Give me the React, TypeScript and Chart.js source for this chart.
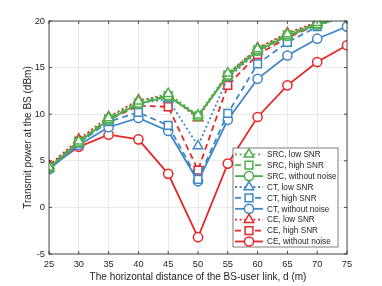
import React, { useEffect, useRef } from "react";
import { Chart, registerables } from "chart.js";

Chart.register(...registerables);

const distances = [25, 30, 35, 40, 45, 50, 55, 60, 65, 70, 75];
const xTicks = [25, 30, 35, 40, 45, 50, 55, 60, 65, 70, 75];
const yTicks = [-5, 0, 5, 10, 15, 20];

const srcLow = [4.3, 7.1, 9.6, 11.4, 12.2, 9.9, 14.4, 17.0, 18.6, 19.8, 20.7];
const srcHigh = [4.3, 7.0, 9.5, 11.2, 12.0, 9.8, 14.2, 16.9, 18.5, 19.7, 20.6];
const srcNoNoise = [4.2, 7.0, 9.4, 11.1, 11.9, 9.8, 14.1, 16.8, 18.4, 19.6, 20.5];
const ctLow = [4.2, 6.9, 9.3, 11.2, 11.6, 6.6, 13.9, 16.7, 18.4, 19.6, 20.6];
const ctHigh = [4.2, 6.9, 9.2, 10.2, 8.8, 3.0, 10.1, 15.4, 17.7, 19.4, 20.8];
const ctNoNoise = [4.1, 6.7, 8.6, 9.6, 8.2, 2.8, 9.4, 13.8, 16.3, 18.1, 19.4];
const ceLow = [4.5, 7.3, 9.7, 11.5, 12.0, 9.6, 14.3, 17.1, 18.7, 19.9, 20.9];
const ceHigh = [4.4, 7.1, 9.4, 10.9, 10.8, 4.0, 13.1, 16.4, 18.2, 19.6, 20.8];
const ceNoNoise = [4.3, 6.5, 7.8, 7.3, 3.6, -3.2, 4.7, 9.7, 13.1, 15.6, 17.4];

const labels = [
  "SRC, low SNR",
  "SRC, high SNR",
  "SRC, without noise",
  "CT, low SNR",
  "CT, high SNR",
  "CT, without noise",
  "CE, low SNR",
  "CE, high SNR",
  "CE, without noise",
];

const GREEN = "#4daf4a";
const BLUE = "#3f87c6";
const RED = "#e6282a";
const TEXT = "#262626";
const FONT = "'Liberation Sans', Arial, sans-serif";

const DOT = [2, 2.6];
const DASH = [6, 4];

type Style = { color: string; dash: number[]; marker: string; radius: number };

const styles: Style[] = [
  { color: GREEN, dash: DOT, marker: "triangle", radius: 5.5 },
  { color: GREEN, dash: DASH, marker: "rect", radius: 5.5 },
  { color: GREEN, dash: [], marker: "circle", radius: 4.6 },
  { color: BLUE, dash: DOT, marker: "triangle", radius: 5.5 },
  { color: BLUE, dash: DASH, marker: "rect", radius: 5.5 },
  { color: BLUE, dash: [], marker: "circle", radius: 4.6 },
  { color: RED, dash: DOT, marker: "triangle", radius: 5.5 },
  { color: RED, dash: DASH, marker: "rect", radius: 5.5 },
  { color: RED, dash: [], marker: "circle", radius: 4.6 },
];

const seriesValues = [srcLow, srcHigh, srcNoNoise, ctLow, ctHigh, ctNoNoise, ceLow, ceHigh, ceNoNoise];

function drawMarker(ctx: CanvasRenderingContext2D, marker: string, x: number, y: number, r: number) {
  ctx.beginPath();
  if (marker === "triangle") {
    let rad = 0;
    ctx.moveTo(x + Math.sin(rad) * r, y - Math.cos(rad) * r);
    rad += (2 * Math.PI) / 3;
    ctx.lineTo(x + Math.sin(rad) * r, y - Math.cos(rad) * r);
    rad += (2 * Math.PI) / 3;
    ctx.lineTo(x + Math.sin(rad) * r, y - Math.cos(rad) * r);
    ctx.closePath();
  } else if (marker === "rect") {
    const s = r / Math.SQRT2;
    ctx.rect(x - s, y - s, 2 * s, 2 * s);
  } else {
    ctx.arc(x, y, r, 0, Math.PI * 2);
  }
  ctx.fillStyle = "#ffffff";
  ctx.fill();
  ctx.stroke();
}

const framePlugin = {
  id: "frame",
  afterDatasetsDraw(chart: any) {
    const { ctx, chartArea } = chart;
    const { left, right, top, bottom } = chartArea;
    const xs = chart.scales.x;
    const ys = chart.scales.y;
    ctx.save();
    ctx.strokeStyle = TEXT;
    ctx.lineWidth = 0.8;
    ctx.strokeRect(left, top, right - left, bottom - top);
    ctx.beginPath();
    const tl = 3;
    xTicks.forEach((v) => {
      const px = xs.getPixelForValue(v);
      ctx.moveTo(px, bottom);
      ctx.lineTo(px, bottom - tl);
      ctx.moveTo(px, top);
      ctx.lineTo(px, top + tl);
    });
    yTicks.forEach((v) => {
      const py = ys.getPixelForValue(v);
      ctx.moveTo(left, py);
      ctx.lineTo(left + tl, py);
      ctx.moveTo(right, py);
      ctx.lineTo(right - tl, py);
    });
    ctx.stroke();
    ctx.restore();
  },
  afterDraw(chart: any) {
    const { ctx } = chart;
    const bx = 233;
    const by = 148;
    const bw = 105;
    const bh = 99;
    ctx.save();
    ctx.fillStyle = "#ffffff";
    ctx.fillRect(bx, by, bw, bh);
    ctx.strokeStyle = TEXT;
    ctx.lineWidth = 0.6;
    ctx.strokeRect(bx, by, bw, bh);
    const rowH = 10.9;
    labels.forEach((lab, i) => {
      const st = styles[i];
      const cy = by + 6.3 + i * rowH;
      ctx.strokeStyle = st.color;
      ctx.lineWidth = 1.8;
      ctx.setLineDash(st.dash);
      ctx.beginPath();
      ctx.moveTo(bx + 2, cy);
      ctx.lineTo(bx + 30, cy);
      ctx.stroke();
      ctx.setLineDash([]);
      ctx.lineWidth = 1.5;
      drawMarker(ctx, st.marker, bx + 16, cy, st.radius);
      ctx.fillStyle = TEXT;
      ctx.font = `8.2px ${FONT}`;
      ctx.textBaseline = "middle";
      ctx.textAlign = "left";
      ctx.fillText(lab, bx + 34, cy + 0.5);
    });
    ctx.restore();
  },
};

export default function App() {
  const canvasRef = useRef<HTMLCanvasElement | null>(null);

  useEffect(() => {
    document.body.style.margin = "0";
    const canvas = canvasRef.current;
    if (!canvas) return;
    const datasets = seriesValues.map((vals, i) => {
      const st = styles[i];
      return {
        label: labels[i],
        data: distances.map((d, j) => ({ x: d, y: vals[j] })),
        borderColor: st.color,
        backgroundColor: "#ffffff",
        borderWidth: 1.8,
        borderDash: st.dash,
        pointStyle: st.marker,
        pointRadius: st.radius,
        pointBorderWidth: 1.5,
        pointBorderColor: st.color,
        pointBackgroundColor: "#ffffff",
        tension: 0,
        fill: false,
      };
    });
    const chart = new Chart(canvas, {
      type: "line",
      data: { datasets },
      options: {
        animation: false,
        responsive: false,
        maintainAspectRatio: false,
        layout: { padding: { left: 18, top: 21, right: 35, bottom: 0 } },
        plugins: {
          legend: { display: false },
          tooltip: { enabled: false },
        },
        scales: {
          x: {
            type: "linear",
            min: 25,
            max: 75,
            afterFit: (s: any) => {
              s.height = 32;
            },
            afterBuildTicks: (s: any) => {
              s.ticks = xTicks.map((v) => ({ value: v }));
            },
            grid: { color: "#e4e4e4", lineWidth: 0.8, drawTicks: false },
            border: { display: false },
            ticks: {
              color: TEXT,
              font: { family: FONT, size: 9.3 },
              padding: 5,
              maxRotation: 0,
            },
            title: {
              display: true,
              text: "The horizontal distance of the BS-user link, d (m)",
              color: TEXT,
              font: { family: FONT, size: 10 },
              padding: { top: 0, bottom: 3 },
            },
          },
          y: {
            type: "linear",
            min: -5,
            max: 20,
            afterFit: (s: any) => {
              s.width = 31;
            },
            afterBuildTicks: (s: any) => {
              s.ticks = yTicks.map((v) => ({ value: v }));
            },
            grid: { color: "#e4e4e4", lineWidth: 0.8, drawTicks: false },
            border: { display: false },
            ticks: {
              color: TEXT,
              font: { family: FONT, size: 9.3 },
              padding: 4,
            },
            title: {
              display: true,
              text: "Transmit power at the BS (dBm)",
              color: TEXT,
              font: { family: FONT, size: 10 },
              padding: { top: 4, bottom: 0 },
            },
          },
        },
      },
      plugins: [framePlugin],
    } as any);
    return () => chart.destroy();
  }, []);

  return (
    <div style={{ width: 382, height: 286, background: "#ffffff" }}>
      <canvas ref={canvasRef} width={382} height={286} style={{ display: "block" }} />
    </div>
  );
}
